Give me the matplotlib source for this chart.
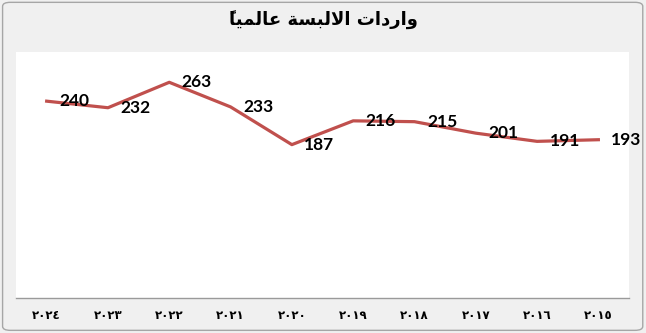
import matplotlib.pyplot as plt
from matplotlib.patches import FancyBboxPatch

# بيانات واردات الالبسة
years = ['2024', '2023', '2022', '2021', '2020', '2019', '2018', '2017', '2016', '2015']
values = [240, 232, 263, 233, 187, 216, 215, 201, 191, 193]

# ارقام عربية هندية للمحور السيني
ar_digits = str.maketrans('0123456789', '٠١٢٣٤٥٦٧٨٩')
year_labels = [y.translate(ar_digits) for y in years]

# العنوان مكتوب بحروف مشكّلة وبترتيب العرض (من اليسار لليمين)
title_visual = 'ًﺎﻴﻤﻟﺎﻋ ﺔﺴﺒﻟﻻﺍ ﺕﺍﺩﺭﺍﻭ'

fig = plt.figure(figsize=(6.46, 3.33), dpi=100)
fig.patch.set_facecolor('#f0f0f0')

# اطار الرسم الخارجي
frame = FancyBboxPatch((0.004, 0.008), 0.991, 0.985, boxstyle='round,pad=0,rounding_size=0.012',
                       transform=fig.transFigure, facecolor='none', edgecolor='#a6a6a6', lw=1.0)
fig.patches.append(frame)

ax = fig.add_axes([0.0248, 0.105, 0.9489, 0.739])
ax.set_facecolor('white')

x = list(range(len(years)))
ax.plot(x, values, color='#c0504d', lw=2.3, solid_joinstyle='round')

for xi, v in zip(x, values):
    ax.annotate(str(v), (xi, v), xytext=(9, 0), textcoords='offset points',
                ha='left', va='center', fontsize=12.5, fontweight='bold',
                family='Lato', color='black')

ax.set_xlim(-0.5, len(years) - 0.5)
ax.set_ylim(0, 300)
ax.set_yticks([])
ax.set_xticks(x)
ax.set_xticklabels(year_labels, fontsize=8.5, fontweight='bold', family='DejaVu Sans')
ax.tick_params(axis='x', length=0, pad=8)

for s in ['top', 'left', 'right']:
    ax.spines[s].set_visible(False)
ax.spines['bottom'].set_color('#9a9a9a')
ax.spines['bottom'].set_linewidth(1.0)

fig.text(0.5, 0.938, title_visual, ha='center', va='center', fontsize=13,
         fontweight='bold', family='DejaVu Sans')

plt.savefig('out.png', dpi=100, facecolor=fig.get_facecolor())
